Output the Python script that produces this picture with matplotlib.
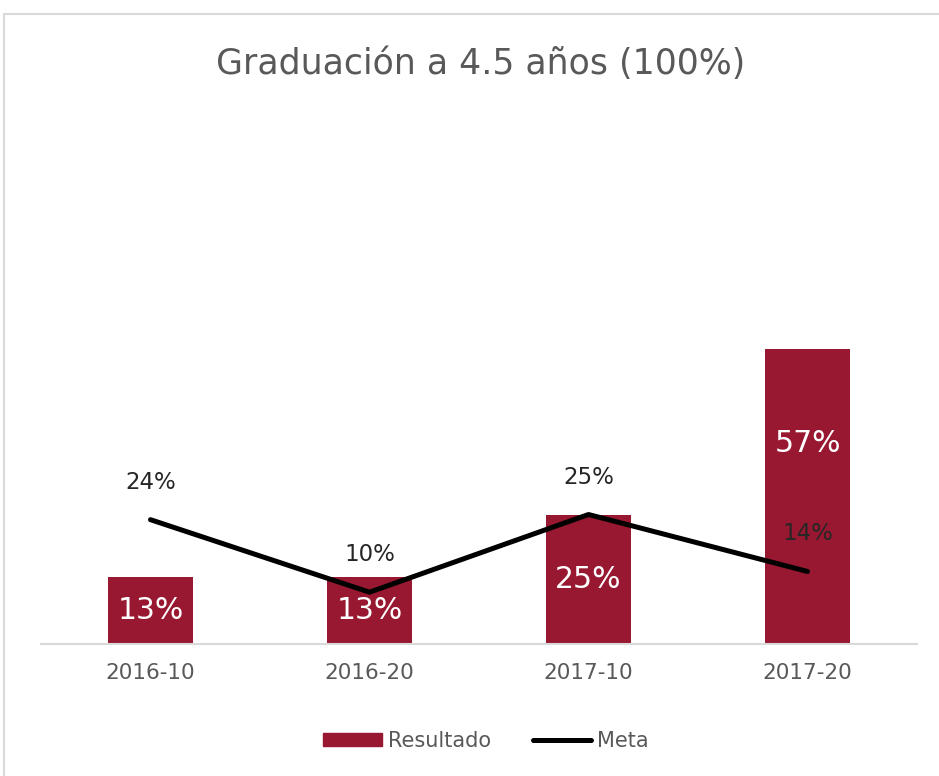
import matplotlib.pyplot as plt
from matplotlib.patches import Rectangle
from matplotlib.lines import Line2D
import numpy as np

# Data
periodos = ['2016-10', '2016-20', '2017-10', '2017-20']
resultado = [13, 13, 25, 57]
meta = [24, 10, 25, 14]

plt.rcParams['font.family'] = ['DejaVu Sans']

rojo = '#971830'
gris = '#595959'

fig = plt.figure(figsize=(9.39, 7.76), dpi=100)
fig.patches.append(Rectangle((4 / 939, -0.1), 1.2, (776 - 14) / 776 + 0.1,
                             transform=fig.transFigure, fill=False,
                             edgecolor='#d9d9d9', linewidth=1.5))

ax = fig.add_axes([41 / 939, 132 / 776, 876 / 939, 518 / 776])
x = np.arange(len(periodos))

ax.bar(x, resultado, width=0.39, color=rojo, zorder=2)
ax.plot(x, meta, color='black', linewidth=3.6, solid_capstyle='round',
        solid_joinstyle='round', zorder=3)

# etiquetas de barras (blancas)
frac = [0.5, 0.5, 0.5, 0.68]
for i, v in enumerate(resultado):
    ax.text(x[i], v * frac[i], f'{v}%', ha='center', va='center',
            color='white', fontsize=21.5, zorder=4)

# etiquetas de la meta
for i, v in enumerate(meta):
    ax.annotate(f'{v}%', (x[i], v), xytext=(0, 27), textcoords='offset points',
                ha='center', va='center', color='#262626', fontsize=16.5, zorder=4)

ax.set_xlim(-0.5, len(periodos) - 0.5)
ax.set_ylim(0, 100)
ax.set_xticks(x)
ax.set_xticklabels(periodos, color=gris, fontsize=15.5)
ax.tick_params(axis='x', length=0, pad=14)
ax.set_yticks([])
for s in ['top', 'right', 'left']:
    ax.spines[s].set_visible(False)
ax.spines['bottom'].set_color('#d9d9d9')
ax.spines['bottom'].set_linewidth(1.5)

fig.text(481 / 939, 1 - 64 / 776, 'Graduación a 4.5 años (100%)', ha='center',
         va='center', color=gris, fontsize=25)

handles = [Rectangle((0, 0), 1, 1, color=rojo),
           Line2D([0], [0], color='black', linewidth=3.6, solid_capstyle='round')]
fig.legend(handles, ['Resultado', 'Meta'], loc='center',
           bbox_to_anchor=(486 / 939, 1 - 741 / 776), ncol=2, frameon=False,
           fontsize=15, labelcolor=gris, handlelength=2.8, handleheight=0.55,
           handletextpad=0.3, columnspacing=2.0)

fig.savefig('out.png', dpi=100)
